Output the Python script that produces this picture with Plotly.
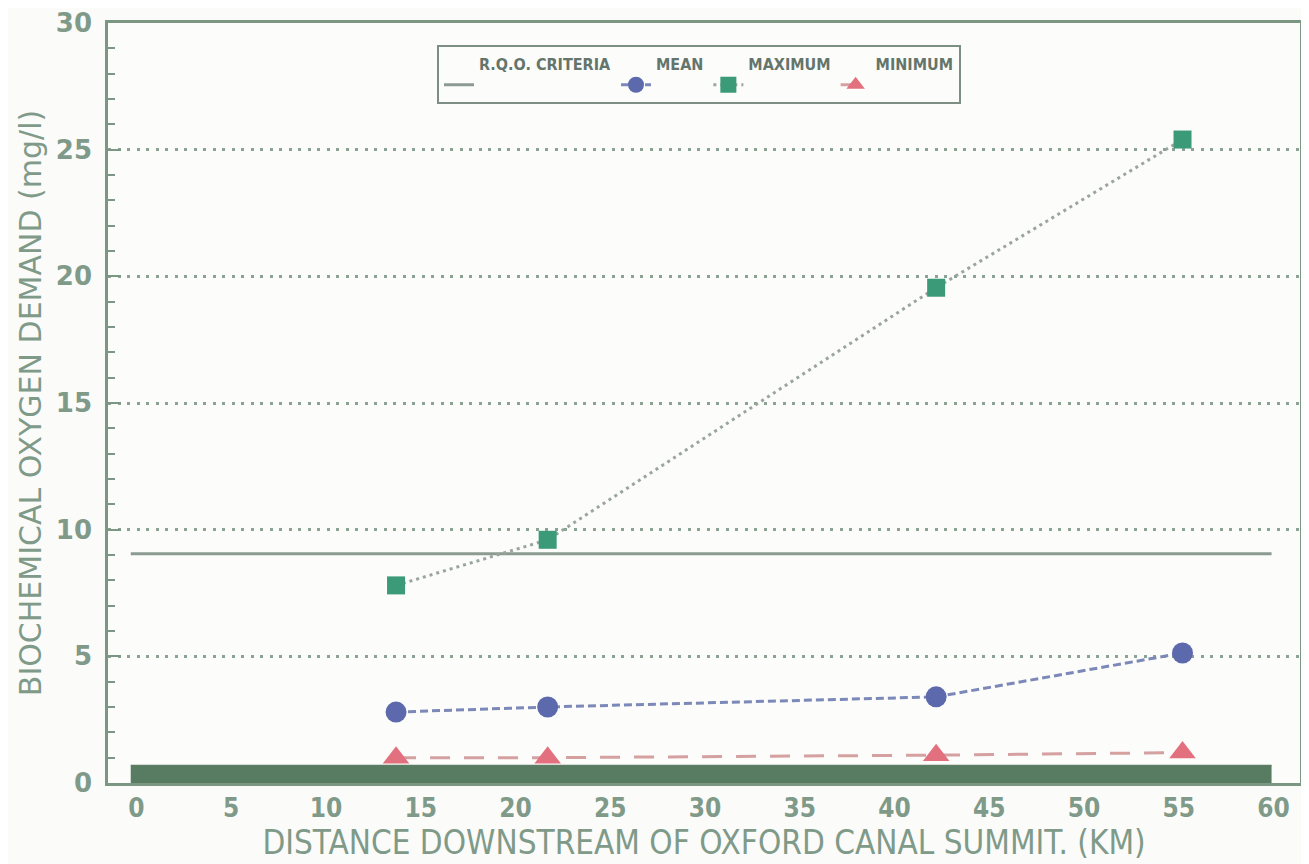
import plotly.graph_objects as go

# ---- data ----
distance_km = [13.7, 21.7, 42.2, 55.2]
bod_mean = [2.8, 3.0, 3.4, 5.13]
bod_maximum = [7.8, 9.6, 19.55, 25.4]
bod_minimum = [1.0, 1.0, 1.1, 1.2]

rqo_x = [-0.3, 59.9]
rqo_y = [9.05, 9.05]

band_x = [-0.3, 59.9]
band_y = [0.7, 0.7]

x_ticks = [0, 5, 10, 15, 20, 25, 30, 35, 40, 45, 50, 55, 60]
y_ticks = [0, 5, 10, 15, 20, 25, 30]

legend_names = ["R.Q.O. CRITERIA", "MEAN", "MAXIMUM", "MINIMUM"]

AX = "#7b9683"
TXT = "#7f9a88"
COND = "DejaVu Sans Condensed, DejaVu Sans"
NB = "\u00a0"


def leg(name):
    return name + "<br>" + NB


fig = go.Figure()

# dark band along the bottom of the chart
fig.add_trace(go.Scatter(
    x=band_x, y=band_y, mode="lines", fill="tozeroy",
    line=dict(color="#53765b", width=1), fillcolor="#587c61",
    showlegend=False, hoverinfo="skip"))

fig.add_trace(go.Scatter(
    x=rqo_x, y=rqo_y, mode="lines", name=leg(legend_names[0]),
    line=dict(color="#8c9b92", width=3)))

fig.add_trace(go.Scatter(
    x=distance_km, y=bod_mean, mode="lines+markers", name=leg(legend_names[1]),
    line=dict(color="#7c88b8", width=3, dash="8px,4px"),
    marker=dict(symbol="circle", size=21, color="#5d69ad",
                line=dict(width=0))))

fig.add_trace(go.Scatter(
    x=distance_km, y=bod_maximum, mode="lines+markers", name=leg(legend_names[2]),
    line=dict(color="#9aa59e", width=3, dash="3px,4px"),
    marker=dict(symbol="square", size=18, color="#3b9a77",
                line=dict(width=0))))

fig.add_trace(go.Scatter(
    x=distance_km, y=bod_minimum, mode="lines+markers", name=leg(legend_names[3]),
    line=dict(color="#d4a0a0", width=3, dash="20px,14px"),
    marker=dict(symbol="triangle-up", size=23, color="#e2707e",
                line=dict(width=0))))

fig.update_layout(
    width=1309, height=864,
    margin=dict(l=100, r=17, t=15, b=89, autoexpand=False),
    paper_bgcolor="#fbfbfa", plot_bgcolor="#fcfcfb",
    font=dict(family=COND, color=TXT),
    legend=dict(
        orientation="h", x=0.276, y=0.971, xanchor="left", yanchor="top",
        bordercolor="#7d8f83", borderwidth=2, bgcolor="#fcfcfb",
        font=dict(family=COND, size=16, color="#64756b", weight="bold"),
        valign="bottom",
        itemwidth=30, tracegroupgap=0),
    showlegend=True,
)

fig.update_xaxes(
    range=[-1.5, 61.4], tickmode="array", tickvals=x_ticks,
    ticks="", showgrid=False, zeroline=False, automargin=False,
    showline=True, mirror=True, linecolor=AX, linewidth=2.5,
    tickfont=dict(family=COND, size=26, color=TXT, weight="bold"),
    title=dict(text="DISTANCE DOWNSTREAM OF OXFORD CANAL SUMMIT. (KM)",
               font=dict(family=COND, size=33, color=TXT),
               standoff=2),
)

fig.update_yaxes(
    range=[0, 30], tickmode="array", tickvals=y_ticks,
    ticks="inside", ticklen=13, tickwidth=2, tickcolor=AX,
    minor=dict(dtick=1, ticks="inside", ticklen=7, tickwidth=2, tickcolor=AX, showgrid=False),
    showgrid=True, gridcolor="#8aa393", gridwidth=3, griddash="3px,6.5px",
    zeroline=False, automargin=False,
    showline=True, mirror=True, linecolor=AX, linewidth=2.5,
    tickfont=dict(family="DejaVu Sans", size=26, color=TXT, weight="bold"),
    ticklabelstandoff=8,
    title=dict(text="BIOCHEMICAL OXYGEN DEMAND (mg/l)",
               font=dict(family="DejaVu Sans", size=30, color=TXT),
               standoff=6),
)

fig.write_html("out.html")
